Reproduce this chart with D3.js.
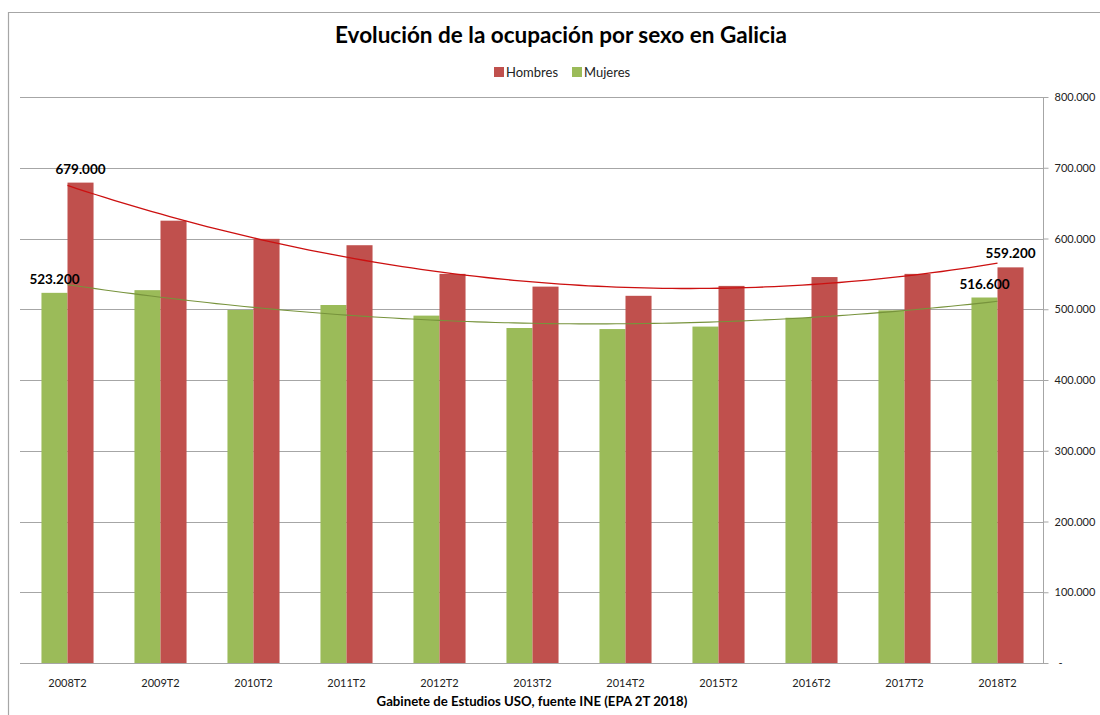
<!DOCTYPE html>
<html>
<head>
<meta charset="utf-8">
<script src="https://cdn.jsdelivr.net/npm/d3@7"></script>
<style>
  html, body { margin: 0; padding: 0; background: #ffffff; }
  svg { display: block; font-family: Lato, "Open Sans", sans-serif; }
</style>
</head>
<body>
<svg id="chart" width="1100" height="715"></svg>
<script>
// ---- data ----
const categories = ["2008T2", "2009T2", "2010T2", "2011T2", "2012T2", "2013T2", "2014T2", "2015T2", "2016T2", "2017T2", "2018T2"];
const hombres = [679000, 625200, 599500, 590500, 550000, 532000, 519000, 533000, 545500, 550000, 559200];
const mujeres = [523200, 527000, 499000, 506000, 491000, 473500, 472000, 475500, 488000, 498500, 516600];
const seriesNames = ["Hombres", "Mujeres"];
const yTickValues = [0, 100000, 200000, 300000, 400000, 500000, 600000, 700000, 800000];
const titleText = "Evolución de la ocupación por sexo en Galicia";
const sourceText = "Gabinete de Estudios USO, fuente INE (EPA 2T 2018)";

// ---- styles ----
const colors = { Hombres: "#c0504d", Mujeres: "#9bbb59" };
const trendColors = { Hombres: "#cc1010", Mujeres: "#77933c" };
const gridColor = "#a6a6a6";

const svg = d3.select("#chart");
const plot = { left: 21, right: 1044, top: 97, bottom: 663 };

const locale = d3.formatLocale({ decimal: ",", thousands: ".", grouping: [3], currency: ["", ""] });
const fmt = locale.format(",.0f");

// outer chart border
svg.append("path")
  .attr("d", "M8.5,715 V12.5 H1100")
  .attr("fill", "none").attr("stroke", "#a6a6a6").attr("stroke-width", 1.2);

// scales
const x0 = d3.scaleBand().domain(categories).range([plot.left, plot.right]).paddingInner(0.44).paddingOuter(0.22);
const x1 = d3.scaleBand().domain(["Mujeres", "Hombres"]).range([0, x0.bandwidth()]);
const y = d3.scaleLinear().domain([0, 800000]).range([plot.bottom, plot.top]);

// gridlines
svg.append("g").selectAll("line").data(yTickValues.filter(v => v > 0)).join("line")
  .attr("x1", plot.left - 1).attr("x2", plot.right - 1)
  .attr("y1", d => Math.round(y(d)) + 0.5).attr("y2", d => Math.round(y(d)) + 0.5)
  .attr("stroke", gridColor).attr("stroke-width", 1);

// right axis
const yAxis = d3.axisRight(y).tickValues(yTickValues).tickSize(5).tickPadding(6)
  .tickFormat(d => d === 0 ? "-" : fmt(d));
const gy = svg.append("g").attr("transform", `translate(${plot.right - 0.5},0)`).call(yAxis);
gy.select(".domain").attr("stroke", gridColor).attr("d", `M0,${plot.top}V${plot.bottom}`);
gy.selectAll(".tick line").attr("stroke", gridColor);
gy.selectAll(".tick text").attr("fill", "#222").style("font-size", "11px").style("font-family", "Lato, sans-serif");
gy.selectAll(".tick text").filter(d => d === 0).attr("x", 15);

// bars
const rows = categories.map((c, i) => ({ cat: c, Hombres: hombres[i], Mujeres: mujeres[i] }));
const groups = svg.append("g").selectAll("g").data(rows).join("g")
  .attr("transform", d => `translate(${x0(d.cat)},0)`);
groups.selectAll("rect").data(d => ["Mujeres", "Hombres"].map(k => ({ key: k, value: d[k] }))).join("rect")
  .attr("x", d => x1(d.key)).attr("width", x1.bandwidth())
  .attr("y", d => y(d.value)).attr("height", d => y(0) - y(d.value))
  .attr("fill", d => colors[d.key]);

// bottom axis line
svg.append("line").attr("x1", plot.left - 1).attr("x2", plot.right + 4)
  .attr("y1", plot.bottom + 0.5).attr("y2", plot.bottom + 0.5)
  .attr("stroke", gridColor).attr("stroke-width", 1.2);

// category labels
svg.append("g").selectAll("text").data(categories).join("text")
  .attr("x", d => x0(d) + x0.bandwidth() / 2).attr("y", 687)
  .attr("text-anchor", "middle").attr("fill", "#222").style("font-size", "11px")
  .text(d => d);

// polynomial (order 2) trendlines by least squares
function quadFit(vals) {
  let s = [0, 0, 0, 0, 0], t = [0, 0, 0];
  vals.forEach((v, i) => {
    for (let k = 0; k < 5; k++) s[k] += Math.pow(i, k);
    for (let k = 0; k < 3; k++) t[k] += v * Math.pow(i, k);
  });
  const A = [[s[0], s[1], s[2]], [s[1], s[2], s[3]], [s[2], s[3], s[4]]];
  const b = t.slice();
  for (let i = 0; i < 3; i++) {
    for (let j = i + 1; j < 3; j++) {
      const f = A[j][i] / A[i][i];
      for (let k = i; k < 3; k++) A[j][k] -= f * A[i][k];
      b[j] -= f * b[i];
    }
  }
  const c = [0, 0, 0];
  for (let i = 2; i >= 0; i--) {
    let sum = b[i];
    for (let k = i + 1; k < 3; k++) sum -= A[i][k] * c[k];
    c[i] = sum / A[i][i];
  }
  return xx => c[0] + c[1] * xx + c[2] * xx * xx;
}
const centerX = d3.scaleLinear().domain([0, categories.length - 1])
  .range([x0(categories[0]) + x0.bandwidth() / 2, x0(categories[categories.length - 1]) + x0.bandwidth() / 2]);
const samples = d3.range(0, categories.length - 1 + 1e-9, 0.1);
const line = d3.line().x(d => centerX(d[0])).y(d => y(d[1]));
[["Mujeres", mujeres, 1.1], ["Hombres", hombres, 1.3]].forEach(([name, vals, w]) => {
  const f = quadFit(vals);
  svg.append("path").datum(samples.map(s => [s, f(s)]))
    .attr("d", line).attr("fill", "none")
    .attr("stroke", trendColors[name]).attr("stroke-width", w);
});

// data labels (first and last)
const lastIdx = categories.length - 1;
const labelData = [
  { key: "Hombres", i: 0, v: hombres[0] },
  { key: "Mujeres", i: 0, v: mujeres[0] },
  { key: "Hombres", i: lastIdx, v: hombres[lastIdx] },
  { key: "Mujeres", i: lastIdx, v: mujeres[lastIdx] }
];
svg.append("g").selectAll("text").data(labelData).join("text")
  .attr("x", d => x0(categories[d.i]) + x1(d.key) + x1.bandwidth() / 2)
  .attr("y", d => y(d.v) - 9)
  .attr("text-anchor", "middle").attr("fill", "#000")
  .style("font-size", "13.5px").style("font-weight", "bold")
  .text(d => fmt(d.v));

// title
const title = svg.append("text").attr("x", 561).attr("y", 43).attr("text-anchor", "middle")
  .style("font-size", "22px").style("font-weight", "bold").attr("fill", "#000").text(titleText);
const tw = title.node().getComputedTextLength();
title.style("font-size", (22 * 452 / tw).toFixed(2) + "px");

// legend
const legend = svg.append("g");
const legendX = { Hombres: 494, Mujeres: 572 };
seriesNames.forEach(name => {
  const g = legend.append("g").attr("transform", `translate(${legendX[name]},67)`);
  g.append("rect").attr("width", 10).attr("height", 10).attr("fill", colors[name]);
  g.append("text").attr("x", 12).attr("y", 9.5).style("font-size", "13px").attr("fill", "#222").text(name);
});

// source
const src = svg.append("text").attr("x", 532).attr("y", 706).attr("text-anchor", "middle")
  .style("font-size", "12px").style("font-weight", "bold").attr("fill", "#000").text(sourceText);
const sw = src.node().getComputedTextLength();
src.style("font-size", (12 * 311 / sw).toFixed(2) + "px");
</script>
</body>
</html>
